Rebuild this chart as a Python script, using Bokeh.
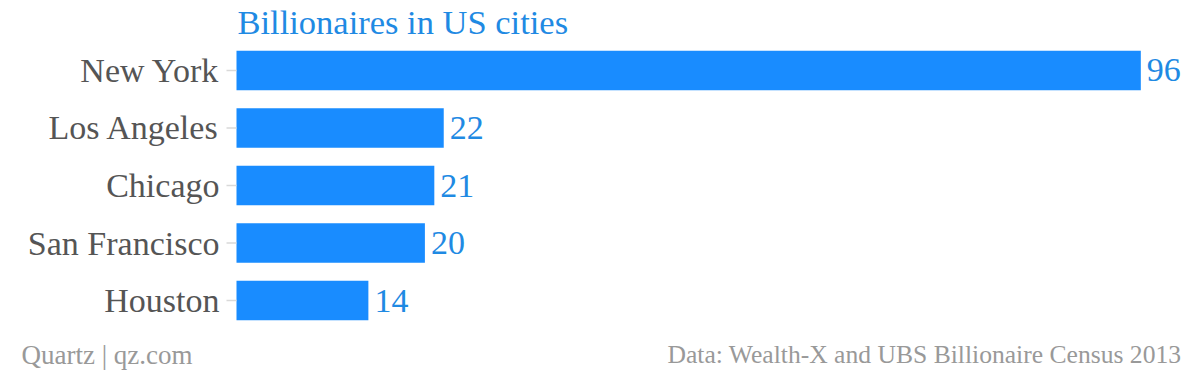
import math
from bokeh.plotting import figure
from bokeh.models import ColumnDataSource, Label, FactorRange, Range1d
from bokeh.core.properties import value
from bokeh.embed import file_html
from bokeh.resources import INLINE

cities = ["New York", "Los Angeles", "Chicago", "San Francisco", "Houston"]
billionaires = [96, 22, 21, 20, 14]
title_text = "Billionaires in US cities"
source_left = "Quartz | qz.com"
source_right = "Data: Wealth-X and UBS Billionaire Census 2013"

FONT = "Liberation Serif"
BAR = "#198cff"
BLUE_TXT = "#1f8ae3"
W, H = 1200, 370
PLOT_LEFT = 236          # pixel where the value axis starts
PX_PER_UNIT = 9.42

src = ColumnDataSource(dict(city=cities, n=billionaires, lbl=[str(v) for v in billionaires]))

p = figure(width=W, height=H, output_backend="svg", toolbar_location=None,
           y_range=FactorRange(factors=cities[::-1], range_padding=0.717,
                               range_padding_units="absolute"),
           x_range=Range1d(-PLOT_LEFT / PX_PER_UNIT, (W - PLOT_LEFT) / PX_PER_UNIT),
           min_border_left=0, min_border_right=0, min_border_top=0, min_border_bottom=0)
p.title.visible = False
p.axis.visible = False
p.grid.visible = False
p.outline_line_color = None

# bars
p.hbar(y="city", right="n", left=0, height=0.69, source=src, color=BAR, line_color=None)
# value labels
p.text(x="n", y="city", text="lbl", source=src, x_offset=6, text_align="left",
       text_baseline="middle", text_color=BLUE_TXT, text_font=value(FONT),
       text_font_size="34px")
# category ticks and labels
p.ray(x=0, y="city", source=src, length=10, length_units="screen", angle=math.pi,
      line_color="#d9d9d9", line_width=1.5)
p.text(x=0, y="city", text="city", source=src, x_offset=-17, text_align="right",
       text_baseline="middle", text_color="#555555", text_font=value(FONT),
       text_font_size="34px")

# title and footers
p.add_layout(Label(x=237, y=H - 21, x_units="screen", y_units="screen", text=title_text,
                   text_font=FONT, text_font_size="34.5px", text_color=BLUE_TXT,
                   text_baseline="middle"))
p.add_layout(Label(x=21, y=16, x_units="screen", y_units="screen", text=source_left,
                   text_font=FONT, text_font_size="27px", text_color="#999999",
                   text_baseline="middle"))
p.add_layout(Label(x=1181, y=16, x_units="screen", y_units="screen", text=source_right,
                   text_font=FONT, text_font_size="25.6px", text_color="#999999",
                   text_align="right", text_baseline="middle"))

open("out.html", "w").write(file_html(p, INLINE))
